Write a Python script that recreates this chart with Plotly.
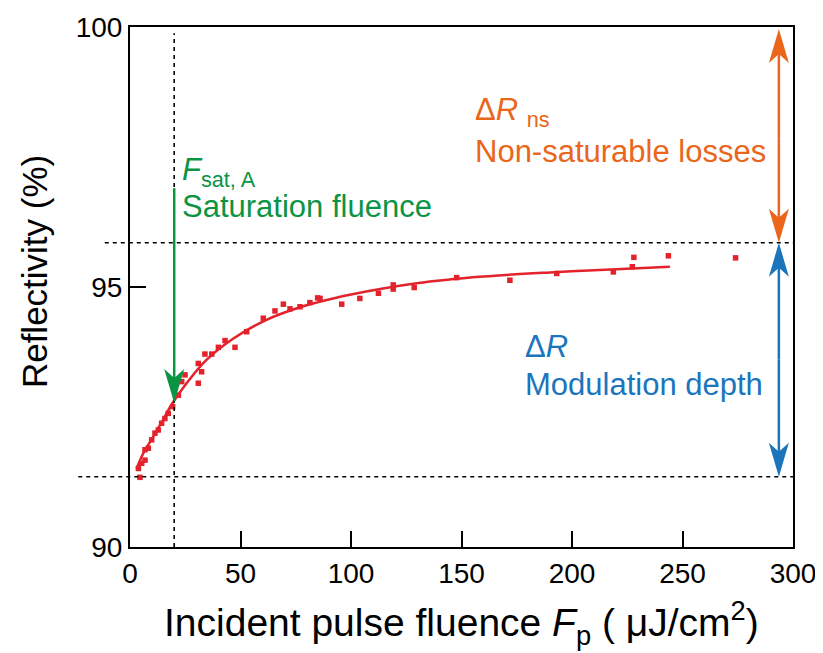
import plotly.graph_objects as go

# ---- data ----
meas_x = [4.5, 3.8, 5.3, 6.8, 6.8, 8.3, 9.8, 11.3, 12.8, 14.3, 15.8, 17.3, 19.3, 21.9, 23.4, 24.9,
          30.9, 30.9, 32.4, 33.9, 37.0, 40.0, 43.0, 47.5, 52.8, 60.3, 65.6, 69.4, 72.4, 76.9,
          81.4, 84.9, 86.0, 95.8, 104.0, 112.4, 119.1, 119.1, 128.6, 147.8, 171.9, 193.1, 218.7,
          227.3, 228.0, 243.6, 274.0]
meas_y = [91.34, 91.51, 91.61, 91.67, 91.87, 91.90, 92.06, 92.19, 92.25, 92.38, 92.47, 92.57, 92.70,
          92.92, 93.18, 93.31, 93.15, 93.53, 93.37, 93.71, 93.71, 93.84, 93.97, 93.84, 94.14, 94.40,
          94.54, 94.67, 94.58, 94.62, 94.70, 94.79, 94.78, 94.67, 94.78, 94.88, 95.04, 94.96, 94.99,
          95.18, 95.13, 95.26, 95.29, 95.39, 95.57, 95.60, 95.56]

fit_x = [3.0, 6.0, 10.5, 15.0, 19.1, 25.6, 34.6, 46.8, 61.8, 76.9, 84.4, 99.5, 129.7, 159.8, 190.0, 220.0, 244.3]
fit_y = [91.51, 91.80, 92.12, 92.45, 92.76, 93.15, 93.60, 94.01, 94.37, 94.61, 94.70, 94.85, 95.07, 95.20, 95.28, 95.34, 95.39]

x_ticks = [0, 50, 100, 150, 200, 250, 300]
y_ticks = [90, 95, 100]
x_range = [0, 300]
y_range = [90, 100]

R_ns = 95.85      # non-saturable level
R_lin = 91.35     # low-fluence level
F_sat = 20        # saturation fluence
arrow_x = 293.6   # position of the double arrows
green_top = 96.9
green_tip = 92.77

RED = "#e3222b"
ORANGE = "#e9661b"
BLUE = "#1b75bc"
GREEN = "#0b9444"
FONT = "Liberation Sans, Arial, Helvetica, sans-serif"
ANN = 31

fig = go.Figure()
fig.add_trace(go.Scatter(x=meas_x, y=meas_y, mode="markers",
                         marker=dict(symbol="square", size=5.5, color=RED), showlegend=False))
fig.add_trace(go.Scatter(x=fit_x, y=fit_y, mode="lines", line=dict(color=RED, width=2.5, shape="spline"),
                         showlegend=False))


def ypaper(v):
    return (v - y_range[0]) / (y_range[1] - y_range[0])


dash = "4px,4px"
shapes = [
    dict(type="line", xref="paper", yref="paper", x0=-0.038, x1=1, y0=ypaper(R_ns), y1=ypaper(R_ns),
         line=dict(color="black", width=1.6, dash=dash)),
    dict(type="line", xref="paper", yref="paper", x0=-0.078, x1=1, y0=ypaper(R_lin), y1=ypaper(R_lin),
         line=dict(color="black", width=1.6, dash=dash)),
    dict(type="line", xref="x", yref="y", x0=F_sat, x1=F_sat, y0=y_range[0], y1=99.88,
         line=dict(color="black", width=1.6, dash=dash)),
]


def arrow(x, y_from, y_to, color):
    d = 1 if y_to > y_from else -1
    shapes.append(dict(type="line", xref="x", yref="y", x0=x, x1=x, y0=y_from, y1=y_to - d * 0.3,
                       line=dict(color=color, width=2.5)))
    s = d
    path = f"M0,0 L-10,{-34*s} L0,{-25*s} L10,{-34*s} Z"
    shapes.append(dict(type="path", xref="x", yref="y", xsizemode="pixel", ysizemode="pixel",
                       xanchor=x, yanchor=y_to, path=path, fillcolor=color, line=dict(width=0)))


arrow(F_sat, green_top, green_tip, GREEN)
arrow(arrow_x, R_ns + 2.0, 99.96, ORANGE)
arrow(arrow_x, R_ns + 2.0, R_ns, ORANGE)
arrow(arrow_x, (R_ns + R_lin) / 2, R_ns, BLUE)
arrow(arrow_x, (R_ns + R_lin) / 2, R_lin, BLUE)

annotations = [
    dict(x=22.6, y=97.21, xref="x", yref="y", xanchor="left", yanchor="middle", showarrow=False,
         text="<i>F</i><sub>sat, A</sub>", font=dict(color=GREEN, size=ANN, family=FONT)),
    dict(x=22.6, y=96.54, xref="x", yref="y", xanchor="left", yanchor="middle", showarrow=False,
         text="Saturation fluence", font=dict(color=GREEN, size=ANN, family=FONT)),
    dict(x=155.2, y=98.37, xref="x", yref="y", xanchor="left", yanchor="middle", showarrow=False,
         text="Δ<i>R</i> <sub>ns</sub>", font=dict(color=ORANGE, size=ANN, family=FONT)),
    dict(x=155.2, y=97.6, xref="x", yref="y", xanchor="left", yanchor="middle", showarrow=False,
         text="Non-saturable losses", font=dict(color=ORANGE, size=ANN, family=FONT)),
    dict(x=177.8, y=93.85, xref="x", yref="y", xanchor="left", yanchor="middle", showarrow=False,
         text="Δ<i>R</i>", font=dict(color=BLUE, size=ANN, family=FONT)),
    dict(x=177.8, y=93.12, xref="x", yref="y", xanchor="left", yanchor="middle", showarrow=False,
         text="Modulation depth", font=dict(color=BLUE, size=ANN, family=FONT)),
    # y-axis title
    dict(x=-0.143, y=0.529, xref="paper", yref="paper", xanchor="center", yanchor="middle",
         showarrow=False, textangle=-90, text="Reflectivity (%)",
         font=dict(color="black", size=35, family=FONT)),
    # x-axis title
    dict(x=0.5, y=-0.146, xref="paper", yref="paper", xanchor="center", yanchor="middle",
         showarrow=False, text="Incident pulse fluence <i>F</i><sub>p</sub> ( μJ/cm<sup>2</sup>)",
         font=dict(color="black", size=39, family=FONT)),
]

# page body has an 8px default margin, so the figure is sized to fit the window
fig.update_layout(
    width=815, height=645,
    margin=dict(l=122, r=30, t=19, b=106, autoexpand=False),
    plot_bgcolor="white", paper_bgcolor="white",
    font=dict(family=FONT, color="black"),
    shapes=shapes, annotations=annotations,
    xaxis=dict(range=x_range, tickvals=x_ticks, ticks="inside", ticklen=16, tickwidth=1.5,
               tickcolor="black", showline=True, linecolor="black", linewidth=2, mirror=True,
               showgrid=False, zeroline=False, tickfont=dict(size=28), automargin=False),
    yaxis=dict(range=y_range, tickvals=y_ticks, ticks="inside", ticklen=16, tickwidth=1.5,
               tickcolor="black", showline=True, linecolor="black", linewidth=2, mirror=True,
               showgrid=False, zeroline=False, tickfont=dict(size=28), automargin=False),
)

fig.write_html("out.html")
